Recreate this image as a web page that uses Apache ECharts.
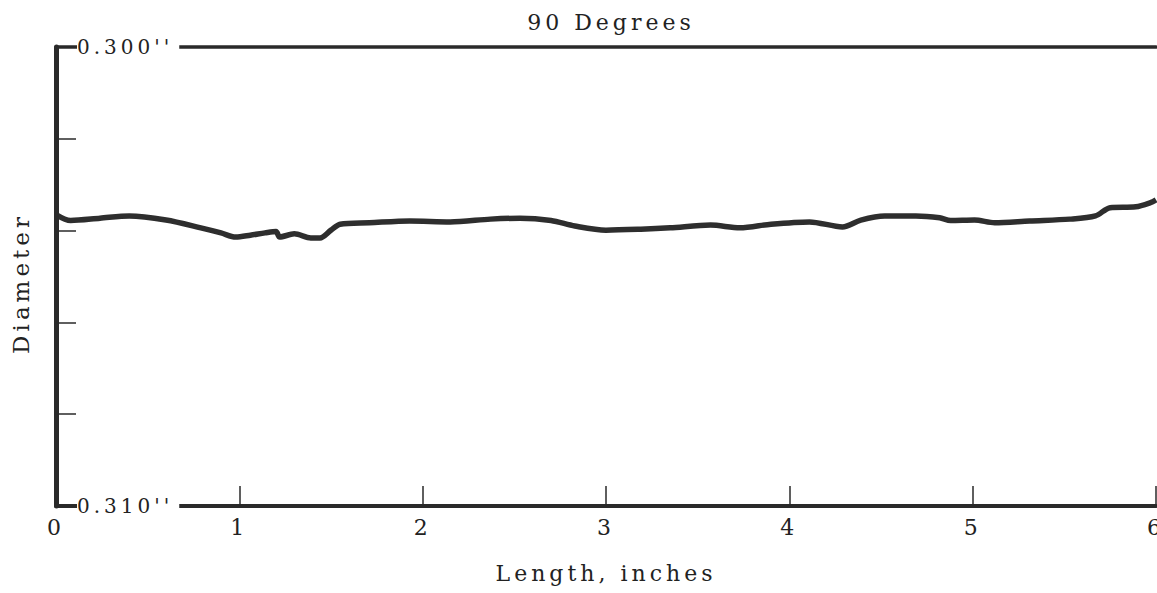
<!DOCTYPE html>
<html>
<head>
<meta charset="utf-8">
<script src="https://cdn.jsdelivr.net/npm/echarts@6/dist/echarts.min.js"></script>
<style>
  html, body { margin: 0; padding: 0; background: #fff; }
  #chart { width: 1157px; height: 593px; }
  #chart text { letter-spacing: 4px; }
</style>
</head>
<body>
<div id="chart"></div>
<script>
// ---- data ----
const titleText = '90 Degrees';
const xName = 'Length, inches';
const yName = 'Diameter';
const xTickLabels = ['0', '1', '2', '3', '4', '5', '6'];
const yEndLabels = ["0.300''", "0.310''"];

const lengthIn = [0, 0.08, 0.24, 0.40, 0.60, 0.79, 0.90, 0.98, 1.06, 1.14, 1.20, 1.22, 1.30, 1.39, 1.44, 1.50, 1.55, 1.71, 1.93, 2.15, 2.37, 2.53, 2.70, 2.83, 3.00, 3.19, 3.35, 3.57, 3.73, 3.90, 4.11, 4.29, 4.39, 4.52, 4.69, 4.82, 4.88, 5.01, 5.12, 5.31, 5.53, 5.67, 5.75, 5.89, 5.97, 6.00];
const diameter = [0.30365, 0.30378, 0.30373, 0.30368, 0.30377, 0.30394, 0.30405, 0.30414, 0.30410, 0.30405, 0.30402, 0.30414, 0.30407, 0.30416, 0.30416, 0.30399, 0.30386, 0.30383, 0.30379, 0.30381, 0.30375, 0.30373, 0.30378, 0.30390, 0.30399, 0.30397, 0.30394, 0.30388, 0.30394, 0.30386, 0.30381, 0.30392, 0.30377, 0.30368, 0.30368, 0.30372, 0.30378, 0.30377, 0.30383, 0.30379, 0.30375, 0.30368, 0.30350, 0.30348, 0.30339, 0.30333];

const seriesData = lengthIn.map((x, i) => [x, diameter[i]]);
const FONT = 'DejaVu Serif';
const INK = '#2a2a2a';

const chart = echarts.init(document.getElementById('chart'), null, { renderer: 'svg' });
chart.setOption({
  animation: false,
  backgroundColor: '#fff',
  title: {
    text: titleText,
    left: 606,
    textAlign: 'center',
    top: 6,
    textStyle: { fontFamily: FONT, fontSize: 22, fontWeight: 'normal', color: '#222' }
  },
  grid: { left: 56, right: 1, top: 47, bottom: 87, containLabel: false, outerBoundsMode: 'none' },
  xAxis: [{
    type: 'value',
    position: 'bottom',
    min: 0, max: 6, interval: 1,
    name: xName,
    nameLocation: 'middle',
    nameGap: 56,
    nameTextStyle: { fontFamily: FONT, fontSize: 22, color: '#222' },
    axisLine: { show: true, lineStyle: { color: INK, width: 4 } },
    axisTick: { show: true, inside: true, length: 20, lineStyle: { color: INK, width: 1.5 } },
    axisLabel: {
      margin: 10, fontFamily: FONT, fontSize: 22, color: '#222',
      showMinLabel: true, showMaxLabel: true,
      hideOverlap: false,
      formatter: v => xTickLabels[Math.round(v)]
    },
    splitLine: { show: false },
    z: 1
  }, {
    type: 'value',
    position: 'top',
    min: 0, max: 6,
    axisLine: { show: true, lineStyle: { color: INK, width: 3.5 } },
    axisTick: { show: false },
    axisLabel: { show: false },
    splitLine: { show: false },
    z: 1
  }],
  yAxis: [{
    type: 'value',
    position: 'left',
    inverse: true,
    min: 0.300, max: 0.310, interval: 0.002,
    name: yName,
    nameLocation: 'middle',
    nameGap: 24,
    nameTextStyle: { fontFamily: FONT, fontSize: 23, color: '#222', padding: [0, 14, 0, 0] },
    axisLine: { show: true, lineStyle: { color: INK, width: 5 } },
    axisTick: { show: true, inside: true, length: 20, lineStyle: { color: INK, width: 1.5 } },
    axisLabel: {
      inside: true,
      margin: 21,
      fontFamily: FONT, fontSize: 20, color: '#222',
      backgroundColor: '#fff',
      padding: [2, 34, 2, 0],
      showMinLabel: true, showMaxLabel: true,
      formatter: v => {
        if (Math.abs(v - 0.300) < 1e-6) return yEndLabels[0];
        if (Math.abs(v - 0.310) < 1e-6) return yEndLabels[1];
        return '';
      }
    },
    splitLine: { show: false },
    z: 5
  }, {
    type: 'value',
    position: 'right',
    inverse: true,
    min: 0.300, max: 0.310,
    axisLine: { show: true, lineStyle: { color: INK, width: 2 } },
    axisTick: { show: false },
    axisLabel: { show: false },
    splitLine: { show: false },
    z: 1
  }],
  series: [{
    type: 'line',
    data: seriesData,
    xAxisIndex: 0,
    yAxisIndex: 0,
    smooth: 0.3,
    showSymbol: false,
    lineStyle: { color: '#2e2e2e', width: 5.5 },
    z: 2
  }]
});
</script>
</body>
</html>
